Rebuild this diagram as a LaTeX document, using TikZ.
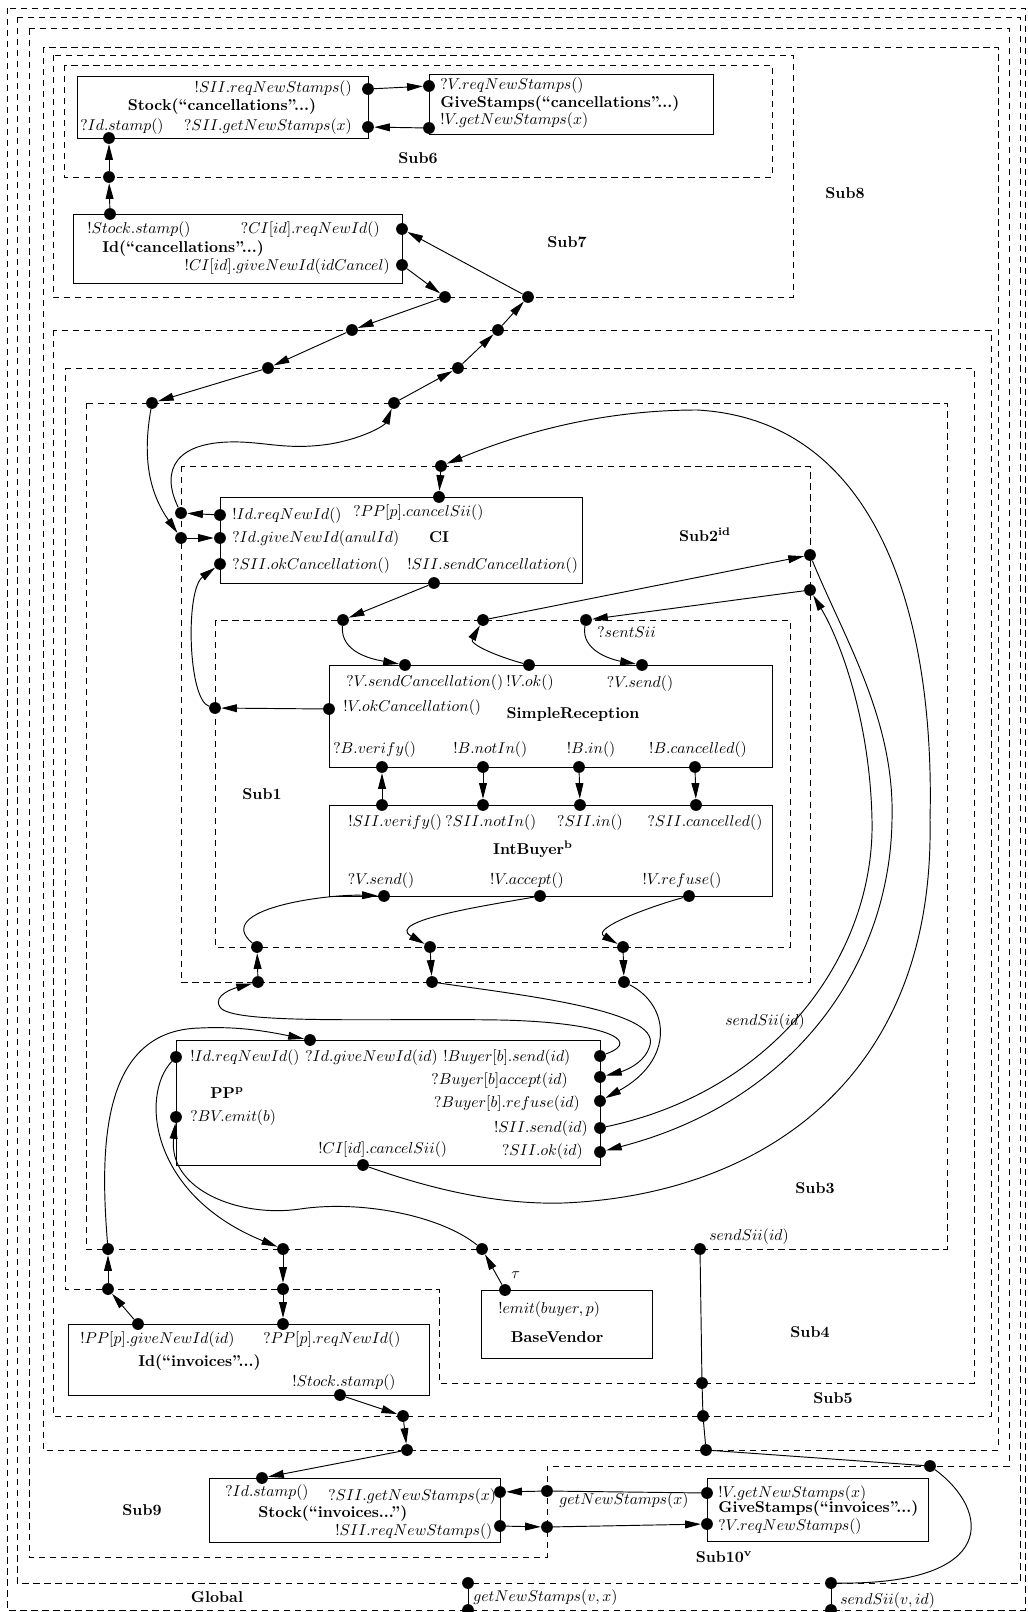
\documentclass[tikz,border=0pt]{standalone}
\usetikzlibrary{arrows.meta}
\begin{document}
\begin{tikzpicture}[x=0.637pt,y=-0.637pt,
  region/.style={draw, line width=0.5pt, dash pattern=on 4pt off 3pt},
  comp/.style={draw, line width=0.6pt},
  dot/.style={circle, fill, inner sep=0pt, minimum size=7.5pt},
  lbl/.style={inner sep=0pt},
  conn/.style={line width=0.6pt},
  arr/.style={conn, -{Triangle[length=10pt,width=5pt]}},
  title/.style={inner sep=0pt, font=\bfseries},
]
\useasboundingbox (0,0) rectangle (1028,1612);
% ---------- regions ----------
\draw[region] (7,8) rectangle (1025,1610);
\draw[region] (17,17) rectangle (1020,1583);
\draw[region] (29,28) -- (1009,28) -- (1009,1466) -- (547,1466) -- (547,1557) -- (29,1557) -- cycle;
\draw[region] (43,47) rectangle (998,1450);
\draw[region] (53,55) rectangle (793,297);
\draw[region] (64,65) rectangle (772,177);
\draw[region] (53,330) rectangle (991,1416);
\draw[region] (65,368) -- (974,368) -- (974,1383) -- (439,1383) -- (439,1289) -- (65,1289) -- cycle;
\draw[region] (86,403) rectangle (947,1249);
\draw[region] (181,466) rectangle (810,982);
\draw[region] (215,620) rectangle (790,947);
% region titles
\node[title] (t6) at (418,158) {Sub6};
\node[title] (t7) at (567,242) {Sub7};
\node[title] (t8) at (845,193) {Sub8};
\node[title] (t2) at (705,535) {Sub2\textsuperscript{id}};
\node[title] (t1) at (262,794) {Sub1};
\node[title] (t3) at (815,1188) {Sub3};
\node[title] (t4) at (810,1332) {Sub4};
\node[title] (t5) at (833,1398) {Sub5};
\node[title] (t9) at (142,1510) {Sub9};
\node[title] (t10) at (724,1557) {Sub10\textsuperscript{v}};
\node[title] (tg) at (217,1597) {Global};
% ---------- component boxes ----------
\draw[comp] (77,76) rectangle (368,138);
\draw[comp] (429,74) rectangle (713,134);
\draw[comp] (73,214) rectangle (402,283);
\draw[comp] (220,497) rectangle (582,583);
\draw[comp] (329,665) rectangle (772,767);
\draw[comp] (329,805) rectangle (772,896);
\draw[comp] (176,1040) rectangle (600,1165);
\draw[comp] (481,1290) rectangle (652,1358);
\draw[comp] (68,1324) rectangle (429,1395);
\draw[comp] (209,1478) rectangle (500,1542);
\draw[comp] (707,1478) rectangle (928,1541);
% ---------- box texts ----------
% Stock cancellations
\node[lbl,anchor=east] (a1) at (352,89) {$!SII.reqNewStamps()$};
\node[title] (a2) at (222,107) {Stock(“cancellations”...)};
\node[lbl,anchor=west] (a3) at (80,127) {$?Id.stamp()$};
\node[lbl,anchor=east] (a4) at (352,127) {$?SII.getNewStamps(x)$};
% GiveStamps cancellations
\node[lbl,anchor=west] (b1) at (440,86) {$?V.reqNewStamps()$};
\node[title,anchor=west] (b2) at (440,104) {GiveStamps(“cancellations”...)};
\node[lbl,anchor=west] (b3) at (440,121) {$!V.getNewStamps(x)$};
% Id cancellations
\node[lbl,anchor=west] (c1) at (87,230) {$!Stock.stamp()$};
\node[lbl,anchor=east] (c2) at (380,230) {$?CI[id].reqNewId()$};
\node[title,anchor=west] (c3) at (102,249) {Id(“cancellations”...)};
\node[lbl,anchor=east] (c4) at (390,267) {$!CI[id].giveNewId(idCancel)$};
% CI
\node[lbl,anchor=west] (d1) at (232,516) {$!Id.reqNewId()$};
\node[lbl,anchor=west] (d2) at (232,539) {$?Id.giveNewId(anulId)$};
\node[lbl,anchor=west] (d3) at (232,566) {$?SII.okCancellation()$};
\node[lbl,anchor=west] (d4) at (353,513) {$?PP[p].cancelSii()$};
\node[title] (d5) at (439,537) {CI};
\node[lbl,anchor=west] (d6) at (407,566) {$!SII.sendCancellation()$};
% SimpleReception
\node[lbl,anchor=west] (e1) at (346,683) {$?V.sendCancellation()$};
\node[lbl] (e2) at (530,683) {$!V.ok()$};
\node[lbl] (e3) at (640,684) {$?V.send()$};
\node[lbl,anchor=west] (e4) at (343,708) {$!V.okCancellation()$};
\node[title] (e5) at (573,715) {SimpleReception};
\node[lbl,anchor=west] (e6) at (333,750) {$?B.verify()$};
\node[lbl,anchor=west] (e7) at (453,750) {$!B.notIn()$};
\node[lbl] (e8) at (591,750) {$!B.in()$};
\node[lbl] (e9) at (698,750) {$!B.cancelled()$};
% IntBuyer
\node[lbl,anchor=west] (f1) at (348,823) {$!SII.verify()$};
\node[lbl,anchor=west] (f2) at (445,823) {$?SII.notIn()$};
\node[lbl] (f3) at (590,823) {$?SII.in()$};
\node[lbl] (f4) at (705,823) {$?SII.cancelled()$};
\node[title] (f5) at (533,849) {IntBuyer\textsuperscript{b}};
\node[lbl] (f6) at (381,881) {$?V.send()$};
\node[lbl] (f7) at (527,881) {$!V.accept()$};
\node[lbl] (f8) at (682,881) {$!V.refuse()$};
% PP
\node[lbl,anchor=west] (g1) at (190,1058) {$!Id.reqNewId()$};
\node[lbl,anchor=west] (g2) at (305,1058) {$?Id.giveNewId(id)$};
\node[lbl,anchor=west] (g3) at (443,1058) {$!Buyer[b].send(id)$};
\node[lbl,anchor=east] (g4) at (568,1081) {$?Buyer[b]accept(id)$};
\node[lbl,anchor=east] (g5) at (580,1104) {$?Buyer[b].refuse(id)$};
\node[lbl,anchor=east] (g6) at (588,1129) {$!SII.send(id)$};
\node[lbl,anchor=east] (g7) at (583,1152) {$?SII.ok(id)$};
\node[title] (g8) at (227,1093) {PP\textsuperscript{p}};
\node[lbl,anchor=west] (g9) at (190,1118) {$?BV.emit(b)$};
\node[lbl,anchor=west] (g10) at (318,1150) {$!CI[id].cancelSii()$};
% BaseVendor
\node[lbl,anchor=west] (h1) at (498,1310) {$!emit(buyer,p)$};
\node[title] (h2) at (557,1337) {BaseVendor};
% Id invoices
\node[lbl,anchor=west] (i1) at (80,1340) {$!PP[p].giveNewId(id)$};
\node[lbl,anchor=west] (i2) at (263,1340) {$?PP[p].reqNewId()$};
\node[title,anchor=west] (i3) at (138,1363) {Id(“invoices”...)};
\node[lbl,anchor=west] (i4) at (292,1383) {$!Stock.stamp()$};
% Stock invoices
\node[lbl,anchor=west] (j1) at (225,1493) {$?Id.stamp()$};
\node[lbl,anchor=west] (j2) at (328,1497) {$?SII.getNewStamps(x)$};
\node[title,anchor=west] (j3) at (258,1514) {Stock(“invoices...”)};
\node[lbl,anchor=west] (j4) at (335,1532) {$!SII.reqNewStamps()$};
% GiveStamps invoices
\node[lbl,anchor=west] (k1) at (718,1494) {$!V.getNewStamps(x)$};
\node[title,anchor=west] (k2) at (718,1509) {GiveStamps(“invoices”...)};
\node[lbl,anchor=west] (k3) at (718,1527) {$?V.reqNewStamps()$};
% free labels
\node[lbl,anchor=west] (m1) at (597,632) {$?sentSii$};
\node[lbl] (m2) at (765,1022) {$sendSii(id)$};
\node[lbl,anchor=west] (m3) at (709,1237) {$sendSii(id)$};
\node[lbl,anchor=west] (m4) at (511,1275) {$\tau$};
\node[lbl,anchor=west] (m5) at (559,1501) {$getNewStamps(x)$};
\node[lbl,anchor=west] (m6) at (473,1598) {$getNewStamps(v,x)$};
\node[lbl,anchor=west] (m7) at (840,1601) {$sendSii(v,id)$};
% ---------- dots ----------
\node[dot] (sc-req) at (368,89) {};
\node[dot] (sc-get) at (368,127) {};
\node[dot] (sc-stamp) at (109,138) {};
\node[dot] (gc-req) at (429,86) {};
\node[dot] (gc-get) at (429,128) {};
\node[dot] (s6b) at (109,177) {};
\node[dot] (ic-stamp) at (110,214) {};
\node[dot] (ic-req) at (402,229) {};
\node[dot] (ic-give) at (402,265) {};
\node[dot] (s7a) at (445,297) {};
\node[dot] (s7b) at (528,297) {};
\node[dot] (s5a) at (352,330) {};
\node[dot] (s5b) at (498,330) {};
\node[dot] (s4a) at (268,368) {};
\node[dot] (s4b) at (458,368) {};
\node[dot] (s3a) at (152,403) {};
\node[dot] (s3b) at (394,403) {};
\node[dot] (s2l1) at (181,513) {};
\node[dot] (s2l2) at (181,538) {};
\node[dot] (s2t) at (441,466) {};
\node[dot] (ci-req) at (220,515) {};
\node[dot] (ci-give) at (220,538) {};
\node[dot] (ci-ok) at (220,564) {};
\node[dot] (ci-cancel) at (439,497) {};
\node[dot] (ci-send) at (434,583) {};
\node[dot] (s1l) at (215,708) {};
\node[dot] (s1t1) at (343,620) {};
\node[dot] (s1t2) at (483,620) {};
\node[dot] (s1t3) at (586,620) {};
\node[dot] (s2r1) at (810,555) {};
\node[dot] (s2r2) at (810,590) {};
\node[dot] (sr-sc) at (405,665) {};
\node[dot] (sr-ok) at (529,665) {};
\node[dot] (sr-send) at (642,665) {};
\node[dot] (sr-okc) at (329,709) {};
\node[dot] (sr-verify) at (382,767) {};
\node[dot] (sr-notin) at (483,767) {};
\node[dot] (sr-in) at (579,767) {};
\node[dot] (sr-canc) at (695,767) {};
\node[dot] (ib-verify) at (382,805) {};
\node[dot] (ib-notin) at (483,805) {};
\node[dot] (ib-in) at (580,805) {};
\node[dot] (ib-canc) at (696,805) {};
\node[dot] (ib-send) at (384,896) {};
\node[dot] (ib-accept) at (540,896) {};
\node[dot] (ib-refuse) at (689,896) {};
\node[dot] (s1b1) at (257,947) {};
\node[dot] (s1b2) at (430,947) {};
\node[dot] (s1b3) at (623,947) {};
\node[dot] (s2b1) at (258,982) {};
\node[dot] (s2b2) at (432,982) {};
\node[dot] (s2b3) at (624,982) {};
\node[dot] (pp-req) at (176,1057) {};
\node[dot] (pp-give) at (310,1040) {};
\node[dot] (pp-send) at (600,1056) {};
\node[dot] (pp-accept) at (600,1077) {};
\node[dot] (pp-refuse) at (600,1101) {};
\node[dot] (pp-siisend) at (600,1128) {};
\node[dot] (pp-siiok) at (600,1152) {};
\node[dot] (pp-emit) at (176,1117) {};
\node[dot] (pp-cancel) at (363,1165) {};
\node[dot] (s3b1) at (108,1249) {};
\node[dot] (s3b2) at (283,1249) {};
\node[dot] (s3b3) at (482,1249) {};
\node[dot] (s3b4) at (700,1249) {};
\node[dot] (s4c1) at (108,1289) {};
\node[dot] (s4c2) at (283,1289) {};
\node[dot] (bv-emit) at (505,1290) {};
\node[dot] (ii-give) at (138,1324) {};
\node[dot] (ii-req) at (283,1324) {};
\node[dot] (ii-stamp) at (340,1395) {};
\node[dot] (s4d) at (702,1383) {};
\node[dot] (s5c) at (403,1416) {};
\node[dot] (s5d) at (703,1416) {};
\node[dot] (s8a) at (407,1450) {};
\node[dot] (s8b) at (706,1450) {};
\node[dot] (si-stamp) at (262,1478) {};
\node[dot] (si-get) at (500,1492) {};
\node[dot] (si-req) at (500,1526) {};
\node[dot] (s9a) at (547,1491) {};
\node[dot] (s9b) at (547,1527) {};
\node[dot] (s9c) at (930,1466) {};
\node[dot] (gi-get) at (707,1493) {};
\node[dot] (gi-req) at (707,1524) {};
\node[dot] (b2a) at (468,1583) {};
\node[dot] (b2b) at (831,1583) {};
\node[dot] (ga) at (468,1610) {};
\node[dot] (gb) at (831,1610) {};
% ---------- connectors ----------
\draw[arr] (sc-req) -- (gc-req);
\draw[arr] (gc-get) -- (sc-get);
\draw[arr] (ic-stamp) -- (s6b);
\draw[arr] (s6b) -- (sc-stamp);
\draw[arr] (ic-give) -- (s7a);
\draw[arr] (s7a) -- (s5a);
\draw[arr] (s5a) -- (s4a);
\draw[arr] (s4a) -- (s3a);
\draw[arr] (s3a) to[out=-100,in=125] (s2l2);
\draw[arr] (s2l2) -- (ci-give);
\draw[arr] (ci-req) -- (s2l1);
\draw[arr] (s2l1) .. controls (160,470) and (175,440) .. (240,442) .. controls (270,443) and (290,450) .. (330,444) .. controls (365,438) and (385,425) .. (s3b);
\draw[arr] (s3b) -- (s4b);
\draw[arr] (s4b) -- (s5b);
\draw[arr] (s5b) -- (s7b);
\draw[arr] (s7b) -- (ic-req);
\draw[arr] (pp-cancel) .. controls (420,1185) and (490,1205) .. (563,1203) .. controls (760,1195) and (935,1080) .. (930,820) .. controls (935,620) and (880,420) .. (697,410) .. controls (620,410) and (540,425) .. (s2t);
\draw[arr] (s2t) -- (ci-cancel);
\draw[arr] (ci-send) -- (s1t1);
\draw[arr] (s1t1) to[out=-95,in=170] (sr-sc);
\draw[arr] (sr-okc) -- (s1l);
\draw[arr] (s1l) .. controls (188,700) and (185,590) .. (ci-ok);
\draw[arr] (sr-ok) to[out=165,in=-120] (s1t2);
\draw[arr] (s1t2) -- (s2r1);
\draw[arr] (s2r1) .. controls (845,640) and (895,720) .. (892,820) .. controls (890,960) and (800,1100) .. (pp-siiok);
\draw[arr] (pp-siisend) .. controls (780,1090) and (875,950) .. (872,820) .. controls (870,720) and (840,640) .. (s2r2);
\draw[arr] (s2r2) -- (s1t3);
\draw[arr] (s1t3) to[out=-100,in=170] (sr-send);
\draw[arr] (ib-verify) -- (sr-verify);
\draw[arr] (sr-notin) -- (ib-notin);
\draw[arr] (sr-in) -- (ib-in);
\draw[arr] (sr-canc) -- (ib-canc);
\draw[arr] (pp-send) .. controls (645,1040) and (600,1022) .. (500,1020) .. controls (380,1018) and (230,1025) .. (220,1007) .. controls (212,995) and (235,988) .. (s2b1);
\draw[arr] (s2b1) -- (s1b1);
\draw[arr] (s1b1) to[out=140,in=178] (ib-send);
\draw[arr] (ib-accept) to[out=190,in=150] (s1b2);
\draw[arr] (ib-refuse) to[out=195,in=150] (s1b3);
\draw[arr] (s1b2) -- (s2b2);
\draw[arr] (s1b3) -- (s2b3);
\draw[arr] (s2b2) .. controls (520,995) and (660,1010) .. (650,1045) .. controls (645,1065) and (620,1072) .. (pp-accept);
\draw[arr] (s2b3) .. controls (670,1005) and (675,1060) .. (pp-refuse);
\draw[arr] (pp-req) .. controls (140,1095) and (150,1195) .. (s3b2);
\draw[arr] (s3b2) -- (s4c2);
\draw[arr] (s4c2) -- (ii-req);
\draw[arr] (ii-give) -- (s4c1);
\draw[arr] (s4c1) -- (s3b1);
\draw[arr] (s3b1) .. controls (100,1150) and (100,1030) .. (200,1028) .. controls (240,1026) and (270,1032) .. (pp-give);
\draw[arr] (bv-emit) -- (s3b3);
\draw[arr] (s3b3) .. controls (440,1215) and (360,1200) .. (300,1209) .. controls (240,1218) and (168,1190) .. (pp-emit);
\draw[conn] (s3b4) -- (s4d) -- (s5d) -- (s8b) -- (s9c);
\draw[conn] (s9c) .. controls (990,1510) and (1000,1585) .. (b2b);
\draw[conn] (b2b) -- (gb);
\draw[arr] (ii-stamp) -- (s5c);
\draw[arr] (s5c) -- (s8a);
\draw[arr] (s8a) -- (si-stamp);
\draw[conn] (gi-get) -- (s9a);
\draw[arr] (s9a) -- (si-get);
\draw[arr] (si-req) -- (s9b);
\draw[arr] (s9b) -- (gi-req);
\draw[conn] (b2a) -- (ga);
\end{tikzpicture}
\end{document}
